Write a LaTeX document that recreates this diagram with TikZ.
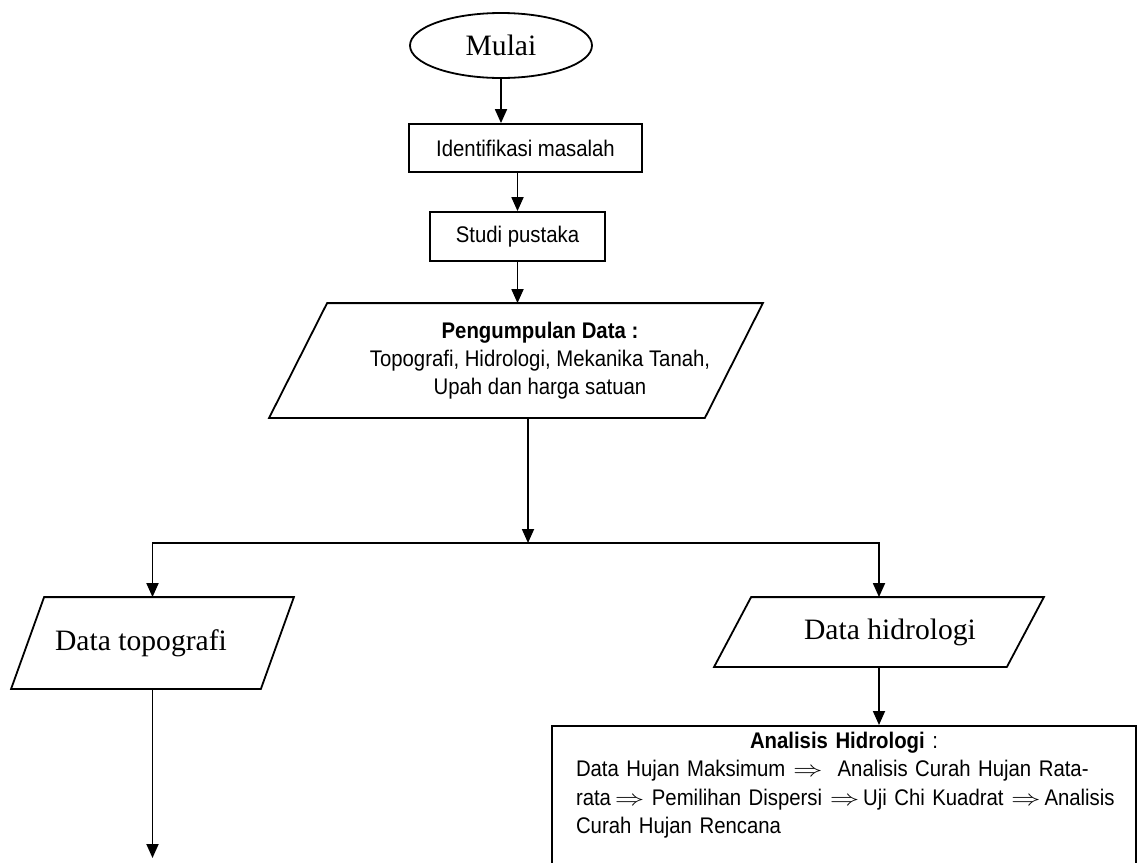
\documentclass[tikz,border=0pt]{standalone}
\usepackage{fontspec}
\setmainfont{Liberation Serif}
\newfontfamily\narrowsf[FakeStretch=0.9]{Liberation Sans}
\usepackage{tikz}
\usetikzlibrary{arrows.meta,shapes.geometric}

\newcommand{\darr}{\scalebox{1.35}[1]{$\Rightarrow$}}
\newcommand{\drawpara}[2]{\draw ([xshift=#2]#1.north west) -- ([xshift=#2]#1.north east)
	-- ([xshift=-#2]#1.south east) -- ([xshift=-#2]#1.south west) -- cycle;}

\begin{document}
\begin{tikzpicture}[x=0.5pt,y=-0.5pt,>={Triangle[length=7pt,width=6pt]},line width=0.9pt,
	flowbox/.style={draw,rectangle,inner sep=0pt,font=\narrowsf\fontsize{11.3}{14}\selectfont},
	inout/.style={rectangle,inner sep=0pt,align=center},
	serifbig/.style={font=\fontsize{14.8}{18}\selectfont}]
	\useasboundingbox (0,0) rectangle (1137,863);

	\node[draw,ellipse,inner sep=0pt,minimum width=91pt,minimum height=32.5pt,serifbig] (start) at (501,45.5) {Mulai};
	\node[flowbox,minimum width=116.5pt,minimum height=24pt] (idm) at (525.5,148) {Identifikasi masalah};
	\node[flowbox,minimum width=87.5pt,minimum height=24.5pt] (sp) at (517.5,236.5) {Studi pustaka};
	\node[inout,minimum width=217pt,minimum height=56.5pt,
		font=\narrowsf\fontsize{11.3}{14}\selectfont] (pd) at (516,360.5)
		{\hspace*{24pt}\begin{tabular}{@{}c@{}}\textbf{Pengumpulan Data :}\\Topografi, Hidrologi, Mekanika Tanah,\\Upah dan harga satuan\end{tabular}};
	\node[inout,minimum width=124pt,minimum height=45pt,serifbig] (dt) at (152.5,643) {Data topografi\hspace*{11.5pt}};
	\node[inout,minimum width=145.5pt,minimum height=34pt,serifbig] (dh) at (879,632) {\hspace*{11pt}Data hidrologi};
	\node[draw,anchor=north,text width=268pt,inner xsep=12pt,inner ysep=3pt,font=\narrowsf\fontsize{11.3}{14.2}\selectfont] (ah) at (844,725)
		{\parindent=0pt{\centering\textbf{Analisis Hidrologi} :\par}\raggedright
		\mbox{Data Hujan Maksimum \darr\ \ Analisis Curah Hujan Rata-}\\
		\mbox{rata\,\darr\ Pemilihan Dispersi \darr\,Uji Chi Kuadrat \darr\,Analisis}\\
		\mbox{Curah Hujan Rencana}\rule[-40pt]{0pt}{0pt}};

	\drawpara{pd}{14.5pt}
	\drawpara{dt}{8.25pt}
	\drawpara{dh}{9.25pt}

	\coordinate (split) at (528,543);
	\coordinate (dtend) at (152.5,858);

	\draw[->] (start.south) -- (start.south |- idm.north);
	\draw[->] (sp.north |- idm.south) -- (sp.north);
	\draw[->] (sp.south) -- (sp.south |- pd.north);
	\draw[->] (split |- pd.south) -- (split);
	\draw[->] (split) -| (dt.north);
	\draw[->] (split) -| (dh.north);
	\draw[->] (dh.south) -- (dh.south |- ah.north);
	\draw[->] (dt.south) -- (dtend);
\end{tikzpicture}
\end{document}
